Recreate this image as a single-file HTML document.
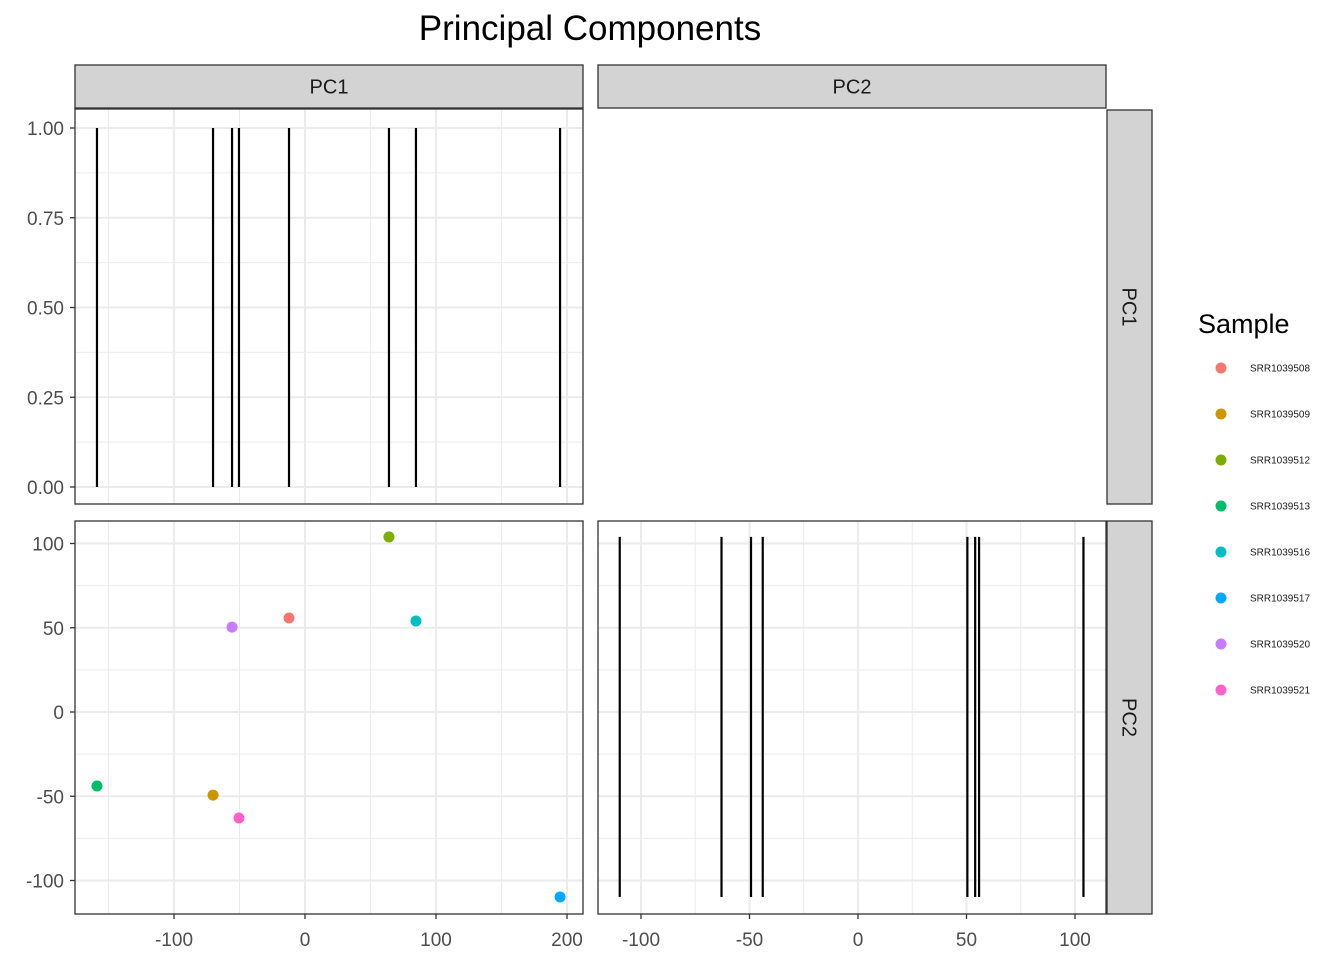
<!DOCTYPE html>
<html><head><meta charset="utf-8"><style>
body{margin:0;background:#fff;}
svg{font-family:"Liberation Sans",Arial,sans-serif;display:block}
</style></head><body>
<svg id="c" width="1344" height="960" xmlns="http://www.w3.org/2000/svg">
<text x="590" y="40" font-size="35" text-anchor="middle" fill="#000">Principal Components</text>
</svg>
<script>
const samples=["SRR1039508","SRR1039509","SRR1039512","SRR1039513","SRR1039516","SRR1039517","SRR1039520","SRR1039521"];
const pc1=[-12.2,-70.2,64.1,-158.8,84.7,194.7,-55.7,-50.4];
const pc2=[55.8,-49.3,103.9,-43.9,54.0,-109.8,50.4,-62.9];
const colors=["#F8766D","#CD9600","#7CAE00","#00BE67","#00BFC4","#00A9FF","#C77CFF","#FF61CC"];
const pc1Ticks=[-100,0,100,200];
const pc1Minor=[-150,-50,50,150];
const pc2Ticks=[-100,-50,0,50,100];
const pc2Minor=[-75,-25,25,75];
const densTicks=[0,0.25,0.5,0.75,1];
const densLabels=["0.00","0.25","0.50","0.75","1.00"];
const densMinor=[0.125,0.375,0.625,0.875];

const svg=document.getElementById('c');
const NS="http://www.w3.org/2000/svg";
function el(t,a,p){const e=document.createElementNS(NS,t);for(const k in a)e.setAttribute(k,a[k]);(p||svg).appendChild(e);return e;}
const xPC1=v=>305+(v)*1.31;
const xPC2=v=>858+v*2.17;
const yDens=v=>487-v*359;
const yPC2=v=>712-v*1.685;
const L={x0:75,x1:583},R={x0:598,x1:1106},T={y0:109,y1:504},B={y0:521,y1:914};

function grid(px,py,xs,xmin,xM,ys,ymin,yM){
  const g=el('g',{});
  
  
  xmin.forEach(v=>el('line',{x1:xs(v),x2:xs(v),y1:py.y0,y2:py.y1,stroke:'#ebebeb','stroke-width':1},g));
  ymin.forEach(v=>el('line',{x1:px.x0,x2:px.x1,y1:ys(v),y2:ys(v),stroke:'#ebebeb','stroke-width':1},g));
  xM.forEach(v=>el('line',{x1:xs(v),x2:xs(v),y1:py.y0,y2:py.y1,stroke:'#ebebeb','stroke-width':2},g));
  yM.forEach(v=>el('line',{x1:px.x0,x2:px.x1,y1:ys(v),y2:ys(v),stroke:'#ebebeb','stroke-width':2},g));
}
function border(px,py,name){const r=el('rect',{x:px.x0,y:py.y0,width:px.x1-px.x0,height:py.y1-py.y0,fill:'none',stroke:'#333','stroke-width':1.3});
}

grid(L,T,xPC1,pc1Minor,pc1Ticks,yDens,densMinor,densTicks);
pc1.forEach(v=>{const l=el('line',{x1:xPC1(v),x2:xPC1(v),y1:yDens(0),y2:yDens(1),stroke:'#000','stroke-width':2.2});
});
border(L,T,'panel-pc1-pc1');
grid(L,B,xPC1,pc1Minor,pc1Ticks,yPC2,pc2Minor,pc2Ticks);
pc1.forEach((v,i)=>{const c=el('circle',{cx:xPC1(v),cy:yPC2(pc2[i]),r:5.5,fill:colors[i]});
});
border(L,B,'panel-pc1-pc2');
grid(R,B,xPC2,pc2Minor,pc2Ticks,yPC2,pc2Minor,pc2Ticks);
const ymn=Math.min(...pc2),ymx=Math.max(...pc2);
pc2.forEach(v=>{const l=el('line',{x1:xPC2(v),x2:xPC2(v),y1:yPC2(ymn),y2:yPC2(ymx),stroke:'#000','stroke-width':2.2});
});
border(R,B,'panel-pc2-pc2');

function strip(x,y,w,h,label,rot,name){const g=el('g',{});
el('rect',{x:x,y:y,width:w,height:h,fill:'#d3d3d3',stroke:'#333','stroke-width':1.3},g);
const t=el('text',{x:x+w/2,y:y+h/2+7,'font-size':20,'text-anchor':'middle',fill:'#1a1a1a'},g);
if(rot){t.setAttribute('transform','rotate(90 '+(x+w/2)+' '+(y+h/2)+')');t.setAttribute('y',y+h/2+7);}t.textContent=label;}
strip(75,65,508,43,'PC1',false,'strip-top-pc1');
strip(598,65,508,43,'PC2',false,'strip-top-pc2');
strip(1107,110,45,394,'PC1',true,'strip-right-pc1');
strip(1107,521,45,393,'PC2',true,'strip-right-pc2');

function tick(x1,y1,x2,y2){el('line',{x1,y1,x2,y2,stroke:'#333','stroke-width':1.3});}
function lab(x,y,s,anchor,name){const t=el('text',{x,y,'font-size':19,'text-anchor':anchor,fill:'#4d4d4d'});t.textContent=s;
}
densTicks.forEach((v,i)=>{tick(70,yDens(v),75,yDens(v));lab(64,yDens(v)+7,densLabels[i],'end','y-tick-label');});
pc2Ticks.forEach(v=>{tick(70,yPC2(v),75,yPC2(v));lab(64,yPC2(v)+7,String(v),'end','y-tick-label');});
pc1Ticks.forEach(v=>{tick(xPC1(v),914,xPC1(v),919);lab(xPC1(v),946,String(v),'middle','x-tick-label');});
pc2Ticks.forEach(v=>{tick(xPC2(v),914,xPC2(v),919);lab(xPC2(v),946,String(v),'middle','x-tick-label');});

const lt=el('text',{x:1198,y:333,'font-size':27,fill:'#000'});lt.textContent='Sample';

samples.forEach((s,i)=>{const g=el('g',{});
const y=368+i*46;el('circle',{cx:1221,cy:y,r:5.5,fill:colors[i]},g);
const t=el('text',{x:1250,y:y+3.5,'font-size':10,fill:'#1a1a1a'},g);t.textContent=s;});
</script>
</body></html>
